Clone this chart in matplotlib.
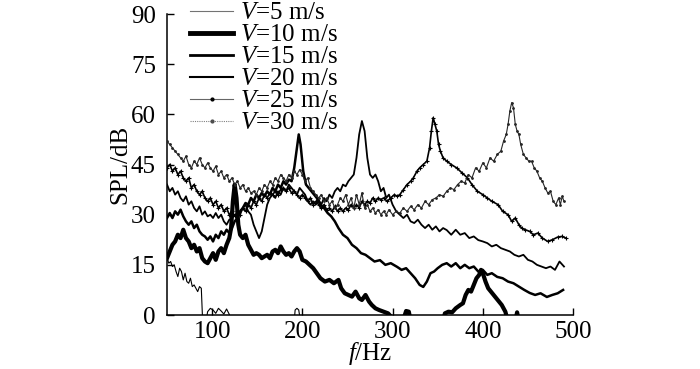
import matplotlib
matplotlib.use("Agg")
import matplotlib.pyplot as plt
from matplotlib.lines import Line2D

plt.rcParams['font.family'] = ['Liberation Serif', 'DejaVu Serif']
plt.rcParams['mathtext.fontset'] = 'custom'
plt.rcParams['mathtext.rm'] = 'Liberation Serif'
plt.rcParams['mathtext.it'] = 'Liberation Serif:italic'

# V = 5 m/s
f5 = [50, 52, 54, 56, 58, 60, 62, 64, 66, 68, 70, 72, 74, 76, 78, 80, 82, 84, 86, 88, 89.5,
      92, 95, 98, 101, 104, 107, 110, 113, 116, 119, 122, 126, 190, 192, 194, 196, 198, 200, 500]
s5 = [17, 15.5, 16, 14.5, 15, 13, 11.5, 14, 13, 10.5, 12.5, 10, 9.5, 11, 8.5, 9, 8, 7, 8.5, 8, -2,
      -4, 1, 2, 1.5, 0.5, 2, 1.2, 0.3, 1.8, 0.2, -3, -5, -5, 1.5, 2, 1.5, -2, -5, -5]

# V = 10 m/s
f10 = [50, 53, 56, 59, 62, 65, 68, 71, 74, 77, 80, 83, 86, 89, 92, 95, 98, 101, 104, 107, 110,
       113, 116, 119, 121, 123, 125, 127, 129, 131, 134, 137, 140, 143, 146, 149, 152, 155, 158,
       161, 164, 167, 170, 173, 176, 179, 182, 185, 188, 191, 194, 197, 200, 204, 208, 212, 216,
       220, 225, 230, 235, 240, 243, 247, 251, 255, 259, 263, 266, 270, 274, 277, 281, 285, 290,
       295, 300, 310, 315, 318, 321, 355, 358, 362, 366, 370, 375, 378, 381, 384, 387, 390, 393,
       396, 398, 400, 403, 406, 409, 412, 415, 418, 421, 425, 428, 436, 438, 440, 500]
s10 = [17, 19, 21, 22, 24, 23, 25.5, 23, 22, 20, 21, 19, 20, 17, 16, 15.5, 17, 18.5, 16.5, 19, 20,
       18.5, 21, 23, 26, 34, 39, 35, 27, 24, 23, 24, 21, 19.5, 18, 18.5, 18, 17, 17.5,
       18, 17, 19, 19.5, 18.5, 20.5, 19, 18, 18.5, 17.5, 19, 20, 19, 16.5, 16, 15, 14, 12.5,
       11, 10, 10.5, 9.5, 10.5, 8, 6.5, 6, 5.5, 7, 5, 4.5, 6, 4, 3, 2, 1.5, 1,
       0.5, -1, -3, 1.2, 1, -3, -3, 0.5, 1, 0.8, 2, 3, 3.5, 6, 7.5, 7, 9, 11,
       12, 13.5, 12.5, 10, 8, 7, 6, 5, 4, 3, 1, -2, -2, 0.8, -2, -2]

# V = 15 m/s
f15 = [50, 53, 56, 59, 62, 65, 68, 71, 74, 77, 80, 83, 86, 89, 92, 95, 98, 101, 104, 107, 110,
       113, 116, 119, 122, 125, 128, 131, 134, 137, 140, 143, 146, 149, 152, 155, 158, 161, 164,
       167, 170, 173, 176, 179, 182, 185, 188, 191, 194, 196, 198, 201, 204, 207, 210, 213, 216,
       220, 224, 228, 232, 236, 240, 245, 250, 255, 260, 265, 270, 275, 280, 286, 292, 298, 305,
       310, 315, 320, 325, 330, 334, 338, 342, 346, 350, 355, 360, 365, 370, 375, 380, 385, 390,
       395, 400, 405, 410, 416, 422, 428, 434, 440, 446, 452, 458, 464, 471, 477, 483, 489]
s15 = [29, 30.5, 29, 31, 30, 31.5, 29.5, 28, 27, 28, 26, 27, 25, 24, 23.5, 22.5, 23.5, 22, 24, 23, 25,
       24, 25.5, 24.5, 26, 28, 29, 31, 32, 33.5, 33, 35, 34, 36, 35, 36.5, 35.5, 37, 36,
       38, 37, 39, 38, 40, 39, 40.5, 40, 44, 50, 54, 51, 43, 39, 38, 37, 36, 35,
       33, 32, 30.5, 29.5, 28, 26, 24, 23, 21, 20, 18.5, 18, 17, 16, 16.4, 15, 15.5, 14.4,
       13.5, 14, 12.5, 11, 9, 8.4, 10, 12.5, 13, 14, 15, 15.5, 14.5, 15.5, 14, 15, 14, 14.5,
       13, 13.5, 12, 12.5, 11.4, 11, 10, 9.5, 8.5, 7.5, 6.6, 6, 6.5, 5.4, 6, 6.5, 7.5]

# V = 20 m/s
f20 = [50, 53, 56, 59, 62, 65, 68, 71, 74, 77, 80, 83, 86, 89, 92, 95, 98, 101, 104, 107, 110,
       113, 116, 119, 122, 125, 128, 131, 134, 137, 140, 143, 146, 149, 152, 155, 158, 161, 164,
       167, 170, 173, 176, 179, 182, 185, 188, 191, 194, 197, 200, 203, 206, 209, 212, 215, 218,
       221, 224, 227, 230, 233, 236, 239, 242, 245, 248, 251, 254, 257, 260, 263, 266, 269, 272,
       275, 278, 281, 284, 287, 290, 293, 296, 300, 304, 308, 312, 316, 320, 324, 328, 332, 336,
       340, 344, 348, 352, 356, 360, 365, 370, 375, 380, 385, 390, 395, 400, 405, 410, 415, 420,
       425, 430, 435, 440, 445, 450, 455, 460, 465, 470, 475, 480, 485, 490]
s20 = [39, 37, 38, 36, 37, 35, 34, 35.5, 33, 34, 32, 31, 32.5, 30, 31, 29.5, 30, 29, 30.5, 29, 30,
       28, 27, 28.5, 29, 30, 29, 31, 32, 33, 31, 30, 27, 25, 23, 25, 29, 33, 35,
       36, 35, 37, 36, 38, 37, 39, 38, 37, 36, 38, 37, 36, 34, 33, 34, 33, 34.5,
       33, 35, 34, 36, 35, 37, 38, 37, 39, 38.5, 40, 41, 42, 47, 54, 58, 55, 47,
       42, 41, 42, 40, 37, 38, 35, 36, 33, 31, 30, 29, 30, 28, 27.5, 28.5, 27, 26,
       27, 25.5, 26.5, 25, 26, 25.4, 24, 25.5, 24, 24.5, 23, 23.5, 22.4, 22, 21.5, 20.5, 21, 20,
       19.5, 19, 18, 17.5, 18, 16.5, 16, 15, 14.5, 14, 14.5, 13.5, 16, 14.5]

# V = 25 m/s
f25 = [50, 53, 56, 59, 62, 65, 68, 71, 74, 77, 80, 83, 86, 89, 92, 95, 98, 101, 104, 107, 110,
       113, 116, 119, 122, 125, 128, 131, 134, 137, 140, 143, 146, 149, 152, 155, 158, 161, 164,
       167, 170, 173, 176, 179, 182, 185, 188, 191, 194, 197, 200, 203, 206, 209, 212, 215, 218,
       221, 224, 227, 230, 233, 236, 239, 242, 245, 248, 251, 254, 257, 260, 263, 266, 269, 272,
       275, 278, 281, 284, 287, 290, 294, 298, 302, 305, 308, 312, 316, 320, 323, 327, 330, 334,
       338, 341, 343, 345, 347, 349, 351, 353, 356, 360, 365, 371, 377, 383, 388, 394, 400, 405,
       410, 417, 422, 428, 432, 436, 440, 443, 447, 452, 456, 461, 466, 472, 477, 483, 488, 492]
s25 = [44, 45, 43, 44, 42, 43, 41, 40, 41, 38, 39, 37, 36, 37, 35, 34, 35, 33, 34, 32, 33,
       31, 32, 30, 31, 29.5, 31, 30, 32, 31, 33, 32, 34, 33, 35, 34, 36, 35, 36.5,
       36, 37, 36, 37.5, 38, 37, 38, 36.5, 37, 36, 35, 36, 35, 34, 35, 33, 34, 33,
       32, 33, 31.5, 32, 31, 32.5, 31, 32, 31, 32, 31.5, 33, 32, 33, 32, 34, 33, 34,
       33.5, 35, 34, 35, 34.5, 35, 34, 35, 36, 35.5, 36, 37.5, 39, 40, 41, 43, 44, 45,
       46, 50, 55, 59, 57, 55, 51, 49, 47, 46, 45, 44, 42.5, 41, 39, 37, 36, 35,
       34, 33, 31, 30, 28, 29, 27, 26, 25.5, 25, 24, 24.5, 23, 22, 22.5, 23.3, 23.5, 23]

# V = 30 m/s
f30 = [50, 53, 56, 59, 62, 65, 68, 71, 74, 77, 80, 83, 86, 89, 92, 95, 98, 101, 104, 107, 110,
       113, 116, 119, 122, 125, 128, 131, 134, 137, 140, 143, 146, 149, 152, 155, 158, 161, 164,
       167, 170, 173, 176, 179, 182, 185, 188, 191, 194, 197, 200, 203, 206, 209, 212, 215, 218,
       221, 224, 227, 230, 233, 236, 239, 242, 245, 248, 251, 254, 257, 260, 263, 266, 269, 272,
       275, 278, 281, 284, 287, 290, 293, 296, 300, 304, 308, 312, 316, 320, 324, 328, 332, 336,
       340, 344, 348, 352, 356, 360, 364, 368, 372, 376, 380, 384, 388, 392, 396, 400, 404, 408,
       412, 416, 420, 423, 426, 428, 430, 432, 434, 436, 438, 440, 442, 445, 448, 451, 454, 457,
       460, 463, 466, 469, 472, 475, 478, 481, 484, 486, 488, 490]
s30 = [52, 51, 50, 49, 48, 47, 46, 47.5, 45, 44, 46, 45, 47, 45, 44, 45.5, 44, 43, 44.5, 42, 43,
       41, 42, 40, 41, 39, 40, 38, 39, 37, 38, 36.5, 37, 36, 38, 37, 39, 38, 40,
       39, 41, 40, 42, 41, 40, 42, 41, 43, 42, 43.5, 42, 40, 41, 38, 37, 36, 35,
       36, 34, 35, 33, 34, 32, 33, 35, 34, 36, 33, 35, 32, 36, 33, 36.5, 32, 33,
       31, 32, 30.5, 31.5, 30, 31, 30, 31.5, 30, 31, 30.5, 32, 31, 32.5, 31.5, 33, 32, 34,
       33, 34.5, 35, 36, 35.5, 37, 38, 37.5, 39, 40, 39.5, 42, 41, 44, 43, 45.5, 44, 47,
       46, 48, 49, 52, 54, 57, 61, 63.5, 62, 57, 55, 54, 51, 48, 47, 46, 46, 44,
       43, 41, 40, 38, 36.5, 37, 34, 33, 35, 33, 35.5, 34]

labels = ['$V$=5 m/s', '$V$=10 m/s', '$V$=15 m/s', '$V$=20 m/s', '$V$=25 m/s', '$V$=30 m/s']
x_ticks = [100, 200, 300, 400, 500]
y_ticks = [0, 15, 30, 45, 60, 75, 90]

fig = plt.figure(figsize=(7, 3.69), dpi=100)
ax = fig.add_axes([0.2386, 0.1463, 0.58, 0.8157])

ax.plot(f5, s5, color='black', lw=0.8, zorder=3)
ax.plot(f10, s10, color='black', lw=3.0, zorder=3)
ax.plot(f15, s15, color='black', lw=1.8, zorder=3)
ax.plot(f20, s20, color='black', lw=1.3, zorder=3)
ax.plot(f25, s25, color='black', lw=1.2, marker='+', ms=3.5, mew=0.8, zorder=3)
ax.plot(f30, s30, color='0.15', lw=0.8, marker='.', ms=2, zorder=3)

# legend handles (style only)
handles = [
    Line2D([], [], color='0.45', lw=0.8),
    Line2D([], [], color='black', lw=3.5),
    Line2D([], [], color='black', lw=2.0),
    Line2D([], [], color='black', lw=1.5),
    Line2D([], [], color='0.4', lw=0.8, marker='.', ms=4, mfc='black', mec='black'),
    Line2D([], [], color='0.5', lw=0.8, ls=(0, (1, 1)), marker='.', ms=4, mfc='0.3', mec='0.3'),
]
fig.legend(handles, labels, loc='upper left', bbox_to_anchor=(0.272, 0.995),
           frameon=False, fontsize=18, handlelength=1.7, handletextpad=0.3,
           labelspacing=-0.02, borderpad=0, borderaxespad=0)

ax.set_xlim(50, 500)
ax.set_ylim(0, 90)
ax.set_xticks(x_ticks)
ax.set_yticks(y_ticks)
ax.tick_params(direction='in', length=5, width=1, labelsize=18)
ax.tick_params(axis='x', pad=4)
ax.tick_params(axis='y', pad=8)
for side in ['top', 'right']:
    ax.spines[side].set_visible(False)
for side in ['left', 'bottom']:
    ax.spines[side].set_linewidth(1.1)
ax.set_xlabel('$f$/Hz', fontsize=18, labelpad=-2)
ax.set_ylabel('SPL/dB', fontsize=18, labelpad=0)

fig.savefig('out.png', dpi=100)
